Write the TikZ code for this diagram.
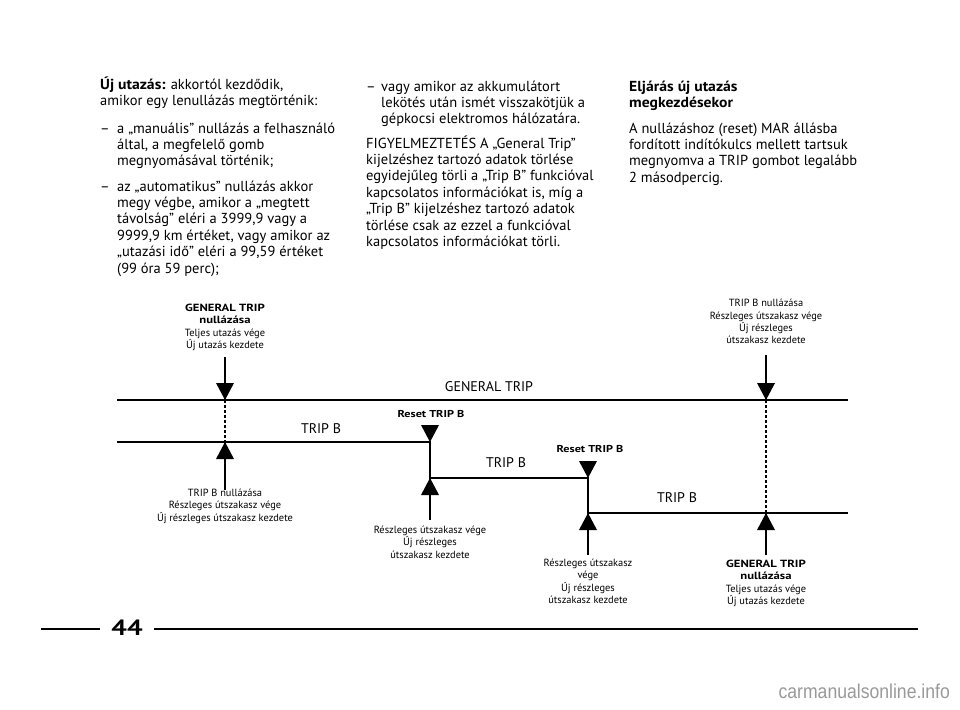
\documentclass[tikz,border=0pt]{standalone}
\usepackage{fontspec}
\setmainfont{PT Sans}
\newfontfamily\widebold{PT Sans}[FakeStretch=1.22]
\newfontfamily\headbold{PT Sans}[FakeStretch=1.08]
\newfontfamily\sitefont{Liberation Sans}

\tikzset{
  body/.style={anchor=base west, inner sep=0pt, align=left, font=\fontsize{14.5}{16.4}\selectfont},
  tracklabel/.style={anchor=base, inner sep=0pt, font=\fontsize{14}{16}\selectfont},
  resetlabel/.style={anchor=base, inner sep=0pt, font=\widebold\bfseries\fontsize{10}{12}\selectfont},
  eventlabel/.style={align=center, inner sep=0pt, font=\fontsize{10.4}{12.3}\selectfont},
  track/.style={line width=1.8pt},
  dashtrack/.style={line width=1.6pt, dash pattern=on 3pt off 2pt},
  shaft/.style={line width=1.6pt},
}
\newcommand\hb[1]{{\headbold\bfseries #1}}
\newcommand\eb[1]{{\widebold\bfseries #1}}

\begin{document}
\begin{tikzpicture}[x=1pt,y=-1pt]
\useasboundingbox (0,0) rectangle (960,709);

% first column (base = last line)
\node[body] (ujutazas) at (100,105.4) {\hb{Új utazás:} akkortól kezdődik,\\amikor egy lenullázás megtörténik:};
\node[body] (dashA) at (100,133) {–};
\node[body] (manualis) at (117,165.8) {a „manuális” nullázás a felhasználó\\által, a megfelelő gomb\\megnyomásával történik;};
\node[body] (dashB) at (100,191) {–};
\node[body] (automatikus) at (117,273) {az „automatikus” nullázás akkor\\megy végbe, amikor a „megtett\\távolság” eléri a 3999,9 vagy a\\9999,9 km értéket, vagy amikor az\\„utazási idő” eléri a 99,59 értéket\\(99 óra 59 perc);};

% second column
\node[body] (dashC) at (366,91) {–};
\node[body] (akkumulator) at (381,123.8) {vagy amikor az akkumulátort\\lekötés után ismét visszakötjük a\\gépkocsi elektromos hálózatára.};
\node[body] (figyelmeztetes) at (366,246.4) {FIGYELMEZTETÉS A „General Trip”\\kijelzéshez tartozó adatok törlése\\egyidejűleg törli a „Trip B” funkcióval\\kapcsolatos információkat is, míg a\\„Trip B” kijelzéshez tartozó adatok\\törlése csak az ezzel a funkcióval\\kapcsolatos információkat törli.};

% third column
\node[body] (eljaras) at (629,107.4) {\hb{Eljárás új utazás}\\\hb{megkezdésekor}};
\node[body] (nullazas) at (629,182.2) {A nullázáshoz (reset) MAR állásba\\fordított indítókulcs mellett tartsuk\\megnyomva a TRIP gombot legalább\\2 másodpercig.};

% tracks
\coordinate (genL) at (117,400);
\coordinate (genR) at (848,400);
\coordinate (tripL) at (117,442);
\coordinate (tripR) at (848,513);
\coordinate (gen1) at (225,400);
\coordinate (trip1) at (225,442);
\coordinate (reset1) at (430,442);
\coordinate (start2) at (430,478);
\coordinate (reset2) at (588,478);
\coordinate (start3) at (588,513);
\coordinate (gen2) at (766,400);
\coordinate (trip3) at (766,513);

\draw[track] (genL) -- (genR);
\draw[track] (tripL) -- (reset1) -- (start2) -- (reset2) -- (start3) -- (tripR);
\draw[dashtrack] (gen1) -- (trip1);
\draw[dashtrack] (gen2) -- (trip3);

% arrow shafts
\coordinate (gen1top) at (225,357);
\coordinate (gen2top) at (766,355);
\coordinate (trip1bot) at (225,490);
\coordinate (start2bot) at (430,520);
\coordinate (start3bot) at (588,555);
\coordinate (trip3bot) at (766,555);
\draw[shaft] (gen1top) -- (gen1);
\draw[shaft] (gen2top) -- (gen2);
\draw[shaft] (trip1bot) -- (trip1);
\draw[shaft] (start2bot) -- (start2);
\draw[shaft] (start3bot) -- (start3);
\draw[shaft] (trip3bot) -- (trip3);

% triangles
\foreach \p in {gen1,gen2,reset1,reset2}
  \fill (\p) -- ++(-9,-17) -- ++(18,0) -- cycle;
\foreach \p in {trip1,start2,start3,trip3}
  \fill (\p) -- ++(-9,17) -- ++(18,0) -- cycle;

% track labels
\node[tracklabel] (genlabel) at (489,391) {GENERAL TRIP};
\node[tracklabel] (triplabelA) at (321,433) {TRIP B};
\node[tracklabel] (triplabelB) at (506,467) {TRIP B};
\node[tracklabel] (triplabelC) at (677,502) {TRIP B};
\node[resetlabel] (resetlabelA) at (431,417) {Reset TRIP B};
\node[resetlabel] (resetlabelB) at (590,452) {Reset TRIP B};

% event labels
\node[eventlabel, anchor=south] (gen1label) at (225,351) {\eb{GENERAL TRIP}\\\eb{nullázása}\\Teljes utazás vége\\Új utazás kezdete};
\node[eventlabel, anchor=south] (gen2label) at (766,344) {TRIP B nullázása\\Részleges útszakasz vége\\Új részleges\\útszakasz kezdete};
\node[eventlabel, anchor=north] (trip1label) at (225,489) {TRIP B nullázása\\Részleges útszakasz vége\\Új részleges útszakasz kezdete};
\node[eventlabel, anchor=north] (start2label) at (430,526) {Részleges útszakasz vége\\Új részleges\\útszakasz kezdete};
\node[eventlabel, anchor=north] (start3label) at (588,559) {Részleges útszakasz\\vége\\Új részleges\\útszakasz kezdete};
\node[eventlabel, anchor=north] (trip3label) at (766,560) {\eb{GENERAL TRIP}\\\eb{nullázása}\\Teljes utazás vége\\Új utazás kezdete};

% page number
\coordinate (footL) at (41,629);
\coordinate (footR) at (918,629);
\node[inner sep=0pt, xscale=1.25, font=\bfseries\fontsize{22}{22}\selectfont] (pagenum) at (127,628) {44};
\draw[line width=1.5pt] (footL) -- ++(59,0);
\draw[line width=1.5pt] (154,629) -- (footR);

\node[anchor=base east, inner sep=0pt, text=black!40, xscale=0.88, font=\sitefont\fontsize{20}{20}\selectfont] (site) at (950,698) {carmanualsonline.info};
\end{tikzpicture}
\end{document}
